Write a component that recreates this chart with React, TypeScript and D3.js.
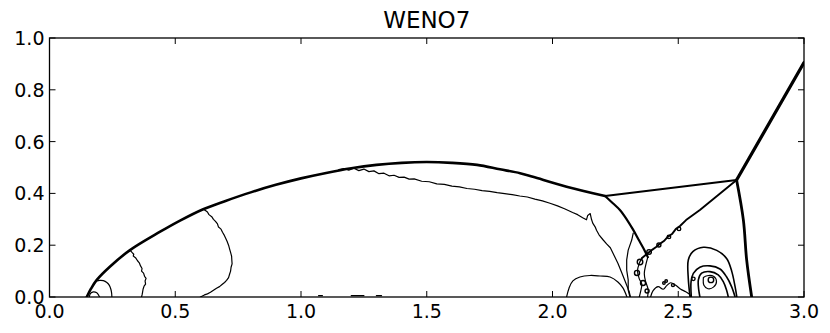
import React from "react";
import * as d3 from "d3";

const W = 830;
const H = 333;
const plot = { left: 49.5, right: 804, top: 38, bottom: 297 };

const xTicks = [0, 0.5, 1, 1.5, 2, 2.5, 3];
const yTicks = [0, 0.2, 0.4, 0.6, 0.8, 1];

// shock fronts (thick lines)
const bowShock = [
    [0.148, 0], [0.165, 0.032], [0.188, 0.066], [0.241, 0.118], [0.32, 0.181],
    [0.44, 0.252], [0.519, 0.295], [0.611, 0.339], [0.7, 0.371], [0.8, 0.404],
    [0.9, 0.433], [1.0, 0.458], [1.1, 0.479], [1.2, 0.497], [1.3, 0.51],
    [1.4, 0.518], [1.5, 0.521], [1.6, 0.518], [1.7, 0.51], [1.791, 0.493],
    [1.871, 0.478], [1.922, 0.464], [2.056, 0.426], [2.209, 0.39],
];
const tripleLink = [[2.209, 0.39], [2.732, 0.452]];
const incident = [[2.732, 0.452], [3.0, 0.905]];
const machStem = [[2.732, 0.452], [2.759, 0.297], [2.772, 0.143], [2.792, 0]];
const reflected = [
    [2.209, 0.39], [2.24, 0.362], [2.268, 0.336], [2.295, 0.3], [2.321, 0.259],
    [2.342, 0.222], [2.361, 0.189], [2.379, 0.154],
];
const slipLine = [
    [2.732, 0.452], [2.586, 0.336], [2.531, 0.297], [2.507, 0.274], [2.49, 0.262],
    [2.475, 0.243], [2.458, 0.232], [2.443, 0.216], [2.428, 0.206], [2.412, 0.193],
    [2.396, 0.182], [2.38, 0.17], [2.356, 0.151],
];

// density contours (thin lines)
const upperContour = [
    [1.15, 0.492], [1.17, 0.496], [1.19, 0.49], [1.21, 0.497], [1.23, 0.488], [1.25, 0.494],
    [1.27, 0.484], [1.29, 0.487], [1.31, 0.476], [1.33, 0.478], [1.35, 0.468], [1.37, 0.47],
    [1.39, 0.462], [1.41, 0.463], [1.43, 0.455], [1.45, 0.456], [1.48, 0.447], [1.51, 0.445],
    [1.54, 0.437], [1.57, 0.435], [1.6, 0.428], [1.63, 0.425], [1.66, 0.419], [1.69, 0.416],
    [1.72, 0.411], [1.75, 0.408], [1.78, 0.403], [1.81, 0.399], [1.84, 0.395], [1.87, 0.39],
    [1.9, 0.386], [1.93, 0.378], [1.96, 0.371], [1.99, 0.362], [2.02, 0.352], [2.05, 0.34],
    [2.08, 0.326], [2.1, 0.318], [2.12, 0.306], [2.135, 0.298], [2.14, 0.315], [2.15, 0.322],
    [2.155, 0.3], [2.16, 0.285], [2.17, 0.27], [2.175, 0.258], [2.185, 0.24], [2.2, 0.222],
    [2.215, 0.205], [2.23, 0.19], [2.245, 0.16], [2.26, 0.13], [2.275, 0.095], [2.29, 0.058],
    [2.305, 0.02], [2.31, 0],
];
const innerContour = [
    [2.321, 0.247], [2.315, 0.22], [2.301, 0.181], [2.295, 0.143], [2.295, 0.104],
    [2.301, 0.066], [2.301, 0.027], [2.308, 0],
];
const contour032 = [
    [0.32, 0.181], [0.328, 0.172], [0.335, 0.165], [0.333, 0.158], [0.342, 0.152], [0.35, 0.14],
    [0.357, 0.132], [0.362, 0.12], [0.368, 0.11], [0.366, 0.1], [0.374, 0.092], [0.378, 0.08],
    [0.384, 0.072], [0.38, 0.062], [0.382, 0.05], [0.376, 0.042], [0.372, 0.03], [0.37, 0.018],
    [0.368, 0.008], [0.366, 0],
];
const contour061 = [
    [0.611, 0.339], [0.62, 0.334], [0.628, 0.328], [0.634, 0.318], [0.645, 0.31], [0.652, 0.3],
    [0.66, 0.292], [0.668, 0.282], [0.672, 0.27], [0.682, 0.262], [0.688, 0.25], [0.694, 0.24],
    [0.7, 0.228], [0.706, 0.215], [0.712, 0.2], [0.716, 0.186], [0.72, 0.172], [0.724, 0.158],
    [0.725, 0.142], [0.726, 0.128], [0.722, 0.115], [0.72, 0.1], [0.716, 0.088], [0.712, 0.075],
    [0.704, 0.064], [0.696, 0.056], [0.686, 0.048], [0.676, 0.04], [0.664, 0.034], [0.652, 0.026],
    [0.64, 0.018], [0.628, 0.012], [0.616, 0.008], [0.608, 0.004], [0.6, 0],
];
const nearCorner = [
    [0.188, 0.062], [0.2, 0.064], [0.214, 0.063], [0.228, 0.056], [0.238, 0.045],
    [0.244, 0.03], [0.247, 0.015], [0.248, 0],
];
const cornerLoop = [[0.158, 0], [0.163, 0.014], [0.175, 0.02], [0.188, 0.016], [0.196, 0.006], [0.199, 0]];
const leftDome = [
    [2.056, 0], [2.066, 0.035], [2.081, 0.062], [2.109, 0.077], [2.149, 0.083], [2.189, 0.081],
    [2.229, 0.077], [2.26, 0.058], [2.28, 0.035], [2.296, 0],
];
const rollDown1 = [[2.356, 0.151], [2.345, 0.13], [2.338, 0.1], [2.345, 0.07], [2.355, 0.05], [2.35, 0.02], [2.345, 0]];
const rollDown2 = [[2.379, 0.154], [2.37, 0.12], [2.365, 0.09], [2.37, 0.06], [2.38, 0.03], [2.378, 0]];
const bottomWave = [
    [2.39, 0], [2.4, 0.025], [2.42, 0.04], [2.44, 0.03], [2.455, 0.045], [2.47, 0.055],
    [2.49, 0.045], [2.51, 0.03], [2.53, 0.02], [2.545, 0.01], [2.55, 0],
];
const outerDome = [
    [2.547, 0], [2.54, 0.07], [2.54, 0.143], [2.558, 0.175], [2.6, 0.192], [2.653, 0.18],
    [2.693, 0.148], [2.713, 0.098], [2.726, 0.04], [2.733, 0],
];
const midDome = [
    [2.552, 0], [2.551, 0.059], [2.56, 0.091], [2.586, 0.115], [2.626, 0.12], [2.666, 0.108],
    [2.692, 0.078], [2.712, 0.04], [2.726, 0],
];
const innerDome = [
    [2.586, 0], [2.58, 0.066], [2.593, 0.092], [2.626, 0.098], [2.659, 0.085], [2.679, 0.059],
    [2.692, 0.027], [2.699, 0],
];
const coreLoop = [[2.6, 0.075], [2.615, 0.082], [2.64, 0.08], [2.652, 0.06], [2.64, 0.038], [2.618, 0.032], [2.602, 0.045], [2.6, 0.075]];
// vortex roll-ups: centre x, centre y, radius (x units)
const vortexX = [2.503, 2.463, 2.423, 2.384, 2.348, 2.336, 2.36, 2.376, 2.479, 2.443, 2.63, 2.56, 2.452];
const vortexY = [0.263, 0.232, 0.201, 0.174, 0.135, 0.093, 0.054, 0.023, 0.046, 0.054, 0.066, 0.07, 0.062];
const vortexR = [0.007, 0.007, 0.008, 0.009, 0.011, 0.01, 0.01, 0.008, 0.006, 0.005, 0.011, 0.007, 0.005];
// tiny contour fragments along the wall
const wallBits = [[1.07, 1.085], [1.2, 1.25], [1.3, 1.32]];

const x = d3.scaleLinear().domain([0, 3]).range([plot.left, plot.right]);
const y = d3.scaleLinear().domain([0, 1]).range([plot.bottom, plot.top]);

const smooth = d3.line().x((d) => x(d[0])).y((d) => y(d[1])).curve(d3.curveCatmullRom);
const jagged = d3.line().x((d) => x(d[0])).y((d) => y(d[1]));

const thick = [
    { pts: bowShock, w: 2.6, s: true },
    { pts: tripleLink, w: 2, s: false },
    { pts: incident, w: 3.2, s: false },
    { pts: machStem, w: 2.8, s: true },
    { pts: reflected, w: 2.2, s: true },
    { pts: slipLine, w: 1.9, s: false },
    { pts: outerDome, w: 1.6, s: true },
    { pts: midDome, w: 1.6, s: true },
    { pts: innerDome, w: 1.6, s: true },
];
const thin = [
    { pts: upperContour, s: false },
    { pts: innerContour, s: false },
    { pts: contour032, s: false },
    { pts: contour061, s: false },
    { pts: nearCorner, s: true },
    { pts: cornerLoop, s: true },
    { pts: leftDome, s: true },
    { pts: rollDown1, s: true },
    { pts: rollDown2, s: true },
    { pts: bottomWave, s: true },
    { pts: coreLoop, s: true },
];

const font = "DejaVu Sans, sans-serif";

export default function App() {
    return (
        <svg width={W} height={H} style={{ position: "absolute", left: 0, top: 0, background: "#fff" }}>
            <defs>
                <clipPath id="plotclip">
                    <rect x={plot.left} y={plot.top} width={plot.right - plot.left} height={plot.bottom - plot.top} />
                </clipPath>
            </defs>
            <g clipPath="url(#plotclip)" fill="none" stroke="#000" strokeLinejoin="round" strokeLinecap="round">
                {thin.map((c, i) => (
                    <path key={"t" + i} d={(c.s ? smooth : jagged)(c.pts)} strokeWidth={1.2} />
                ))}
                {thick.map((c, i) => (
                    <path key={"k" + i} d={(c.s ? smooth : jagged)(c.pts)} strokeWidth={c.w} />
                ))}
                {vortexX.map((vx, i) => (
                    <circle key={"v" + i} cx={x(vx)} cy={y(vortexY[i])} r={x(vortexR[i]) - x(0)} strokeWidth={1.4} />
                ))}
                {wallBits.map((b, i) => (
                    <line key={"w" + i} x1={x(b[0])} x2={x(b[1])} y1={y(0.005)} y2={y(0.005)} strokeWidth={1.3} />
                ))}
            </g>
            <rect
                x={plot.left}
                y={plot.top}
                width={plot.right - plot.left}
                height={plot.bottom - plot.top}
                fill="none"
                stroke="#000"
                strokeWidth={1.3}
            />
            {xTicks.map((t) => (
                <g key={"x" + t}>
                    <line x1={x(t)} x2={x(t)} y1={plot.bottom} y2={plot.bottom - 6} stroke="#000" />
                    <line x1={x(t)} x2={x(t)} y1={plot.top} y2={plot.top + 6} stroke="#000" />
                    <text x={x(t)} y={318} textAnchor="middle" fontFamily={font} fontSize={19}>
                        {t.toFixed(1)}
                    </text>
                </g>
            ))}
            {yTicks.map((t) => (
                <g key={"y" + t}>
                    <line x1={plot.left} x2={plot.left + 6} y1={y(t)} y2={y(t)} stroke="#000" />
                    <line x1={plot.right} x2={plot.right - 6} y1={y(t)} y2={y(t)} stroke="#000" />
                    <text x={44.5} y={y(t) + 7} textAnchor="end" fontFamily={font} fontSize={19}>
                        {t.toFixed(1)}
                    </text>
                </g>
            ))}
            <text x={(plot.left + plot.right) / 2} y={28} textAnchor="middle" fontFamily={font} fontSize={23}>
                WENO7
            </text>
        </svg>
    );
}
